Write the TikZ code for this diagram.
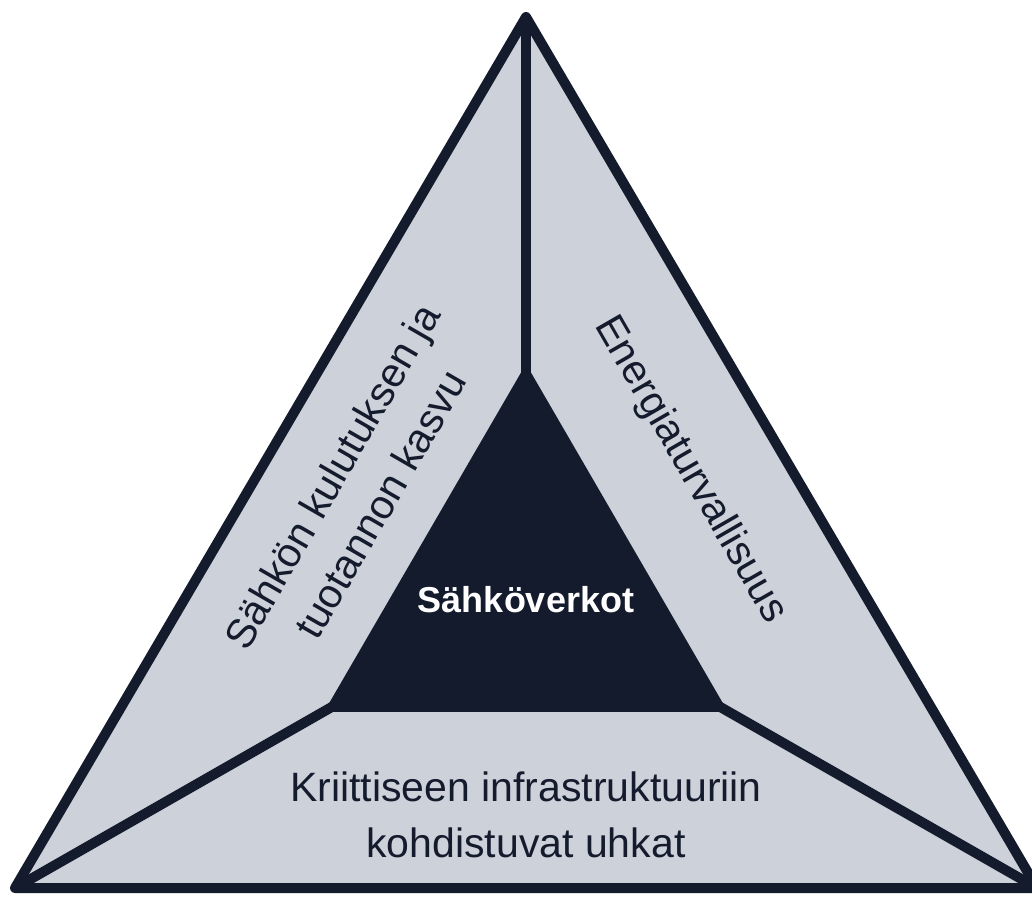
\documentclass[tikz,border=0pt]{standalone}
\usepackage{fontspec}
\setmainfont{Liberation Sans}
\definecolor{navy}{HTML}{131B2C}
\definecolor{paleblue}{HTML}{CDD1DA}
\begin{document}
\begin{tikzpicture}[x=1pt,y=1pt,
  edge/.style={draw=navy,line width=10pt,line join=round},
  divider/.style={draw=navy,line width=10pt},
  label/.style={text=navy,font=\fontsize{41}{56}\selectfont,align=center,inner sep=0pt},
  corelabel/.style={text=white,font=\bfseries\fontsize{36}{40}\selectfont,inner sep=0pt}]
\useasboundingbox (0,0) rectangle (1032,896);
\coordinate (A) at (526,879);
\coordinate (B) at (15,8);
\coordinate (C) at (1037,8);
\coordinate (I1) at (526,532);
\coordinate (I2) at (324,184);
\coordinate (I3) at (728,184);
\coordinate (M) at (526,300);
\fill[paleblue] (A) -- (B) -- (C) -- cycle;
\draw[divider] (A) -- (M);
\draw[divider] (B) -- (M);
\draw[divider] (C) -- (M);
\fill[navy] (I1) -- (I2) -- (I3) -- cycle;
\draw[edge] (A) -- (B) -- (C) -- cycle;
\node[corelabel] (core) at (526,296) {Sähköverkot};
\node[label,rotate=60] (left) at (356,406) {Sähkön kulutuksen ja\\tuotannon kasvu};
\node[label,rotate=-60] (right) at (690,426) {Energiaturvallisuus};
\node[label] (bottom) at (526,81) {Kriittiseen infrastruktuuriin\\kohdistuvat uhkat};
\end{tikzpicture}
\end{document}
